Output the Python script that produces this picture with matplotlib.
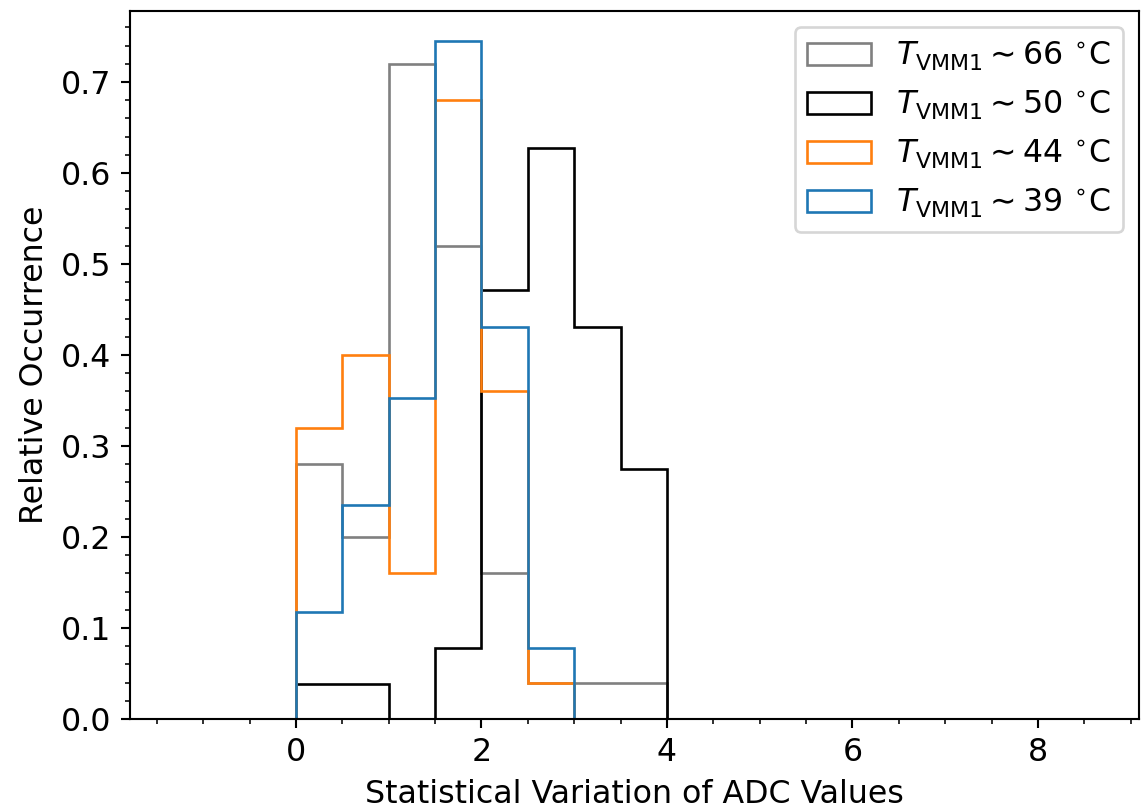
import numpy as np
import matplotlib
matplotlib.use("Agg")
import matplotlib.pyplot as plt
from matplotlib.ticker import MultipleLocator

# bin edges (width 0.5) and relative occurrence per bin
edges = np.arange(0, 10.01, 0.5)
n_bins = len(edges) - 1

def pad(vals):
    out = np.zeros(n_bins)
    out[:len(vals)] = vals
    return out

t66 = pad([0.28, 0.20, 0.72, 0.52, 0.16, 0.04, 0.04, 0.04])
t50 = pad([0.039, 0.039, 0.0, 0.078, 0.471, 0.627, 0.431, 0.275])
t44 = pad([0.32, 0.40, 0.16, 0.68, 0.36, 0.04])
t39 = pad([0.118, 0.235, 0.353, 0.745, 0.431, 0.078])

series = [t66, t50, t44, t39]
labels = [r'$T_{\mathrm{VMM1}} \sim 66\ ^{\circ}\mathrm{C}$',
          r'$T_{\mathrm{VMM1}} \sim 50\ ^{\circ}\mathrm{C}$',
          r'$T_{\mathrm{VMM1}} \sim 44\ ^{\circ}\mathrm{C}$',
          r'$T_{\mathrm{VMM1}} \sim 39\ ^{\circ}\mathrm{C}$']
colors = ['grey', 'black', 'tab:orange', 'tab:blue']

dpi = 190
fig = plt.figure(figsize=(1143 / dpi, 807 / dpi), dpi=dpi)
ax = fig.add_axes([130 / 1143, 88 / 807, 1009 / 1143, 708 / 807])

for vals, lab, col in zip(series, labels, colors):
    ax.hist(edges[:-1], bins=edges, weights=vals, histtype='step',
            color=col, label=lab, linewidth=1.0)

ax.set_xlim(-1.79, 9.09)
ax.set_ylim(0, 0.778)
ax.xaxis.set_major_locator(MultipleLocator(2))
ax.xaxis.set_minor_locator(MultipleLocator(0.5))
ax.yaxis.set_major_locator(MultipleLocator(0.1))
ax.yaxis.set_minor_locator(MultipleLocator(0.02))
ax.tick_params(labelsize=12)

ax.set_xlabel("Statistical Variation of ADC Values", fontsize=12)
ax.set_ylabel("Relative Occurrence", fontsize=12)
ax.legend(loc='upper right', fontsize=12)

fig.savefig("out.png", dpi=dpi)
